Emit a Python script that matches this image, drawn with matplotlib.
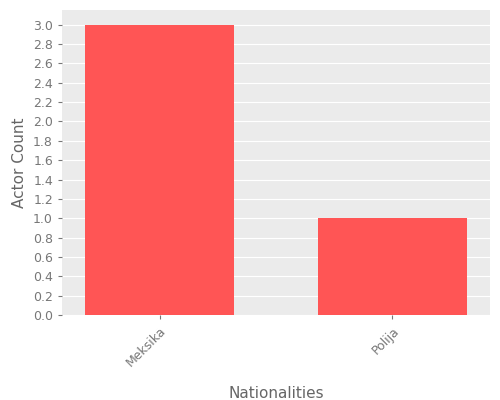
import matplotlib
matplotlib.use("Agg")
import matplotlib.pyplot as plt
import numpy as np

categories = ["Meksika", "Polija"]
counts = [3, 1]

fig = plt.figure(figsize=(5, 4), dpi=100)
ax = fig.add_axes([0.124, 0.212, 0.856, 0.763])
ax.set_facecolor("#EBEBEB")
x = np.arange(len(categories))
ax.bar(x, counts, width=0.64, color="#FF5555", zorder=3)
ax.set_xlim(-0.42, 1.42)
ax.set_ylim(0, 3.15)
ax.set_yticks(np.arange(0, 3.01, 0.2))
ax.set_yticklabels([f"{v:.1f}" for v in np.arange(0, 3.01, 0.2)])
ax.set_xticks(x)
ax.set_xticklabels(categories, rotation=45, ha="right", rotation_mode="anchor")
ax.grid(axis="y", color="white", linewidth=0.8, zorder=0)
for s in ax.spines.values():
    s.set_visible(False)
ax.tick_params(colors="#777777", labelsize=9, length=3)
ax.set_xlabel("Nationalities", color="#666666", fontsize=11, labelpad=12)
ax.set_ylabel("Actor Count", color="#666666", fontsize=11)
fig.savefig("out.png")
